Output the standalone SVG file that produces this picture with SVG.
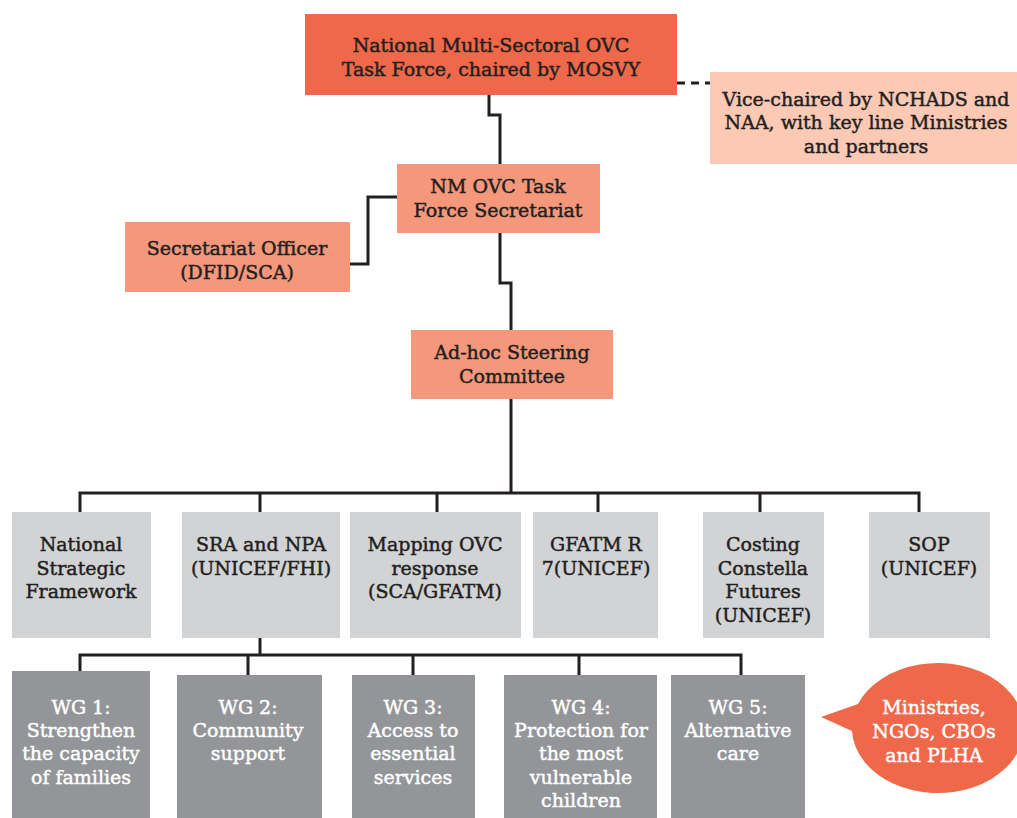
<svg xmlns="http://www.w3.org/2000/svg" width="1017" height="818" viewBox="0 0 1017 818">
<style>
text{font-family:"DejaVu Serif","Liberation Serif",serif;font-size:19px;text-anchor:middle;fill:#231F20;stroke:#231F20;stroke-width:0.45}
text.w{fill:#FFFFFF;stroke:#FFFFFF}
.dark{fill:#EF6849}
.mid{fill:#F5977A}
.light{fill:#FCC9B4}
.g1{fill:#D1D3D4}
.g2{fill:#939598}
.ln{fill:none;stroke:#231F20;stroke-width:3}
.dash{fill:none;stroke:#231F20;stroke-width:3;stroke-dasharray:8 6}
</style>
<rect width="1017" height="818" fill="#FFFFFF"/>
<g id="connectors">
<path class="ln" d="M489,95 V115 H500 V164"/>
<path class="dash" d="M677,83 H710"/>
<path class="ln" d="M350,264 H368 V197 H397"/>
<path class="ln" d="M500,233 V283 H511 V330"/>
<path class="ln" d="M511,399 V493"/>
<path class="ln" d="M80,512 V493 H919 V512"/>
<path class="ln" d="M260,493 V512 M437,493 V512 M598,493 V512 M760,493 V512"/>
<path class="ln" d="M260,638 V655"/>
<path class="ln" d="M80,671 V655 H741 V675"/>
<path class="ln" d="M248,655 V675 M413,655 V675 M579,655 V675"/>
</g>
<g id="n-taskforce">
<rect class="dark" x="305" y="14" width="372" height="81"/>
<text x="491" y="52">National Multi-Sectoral OVC</text>
<text x="491" y="76">Task Force, chaired by MOSVY</text>
</g>
<g id="n-vice">
<rect class="light" x="710" y="72" width="310" height="92"/>
<text x="866" y="106">Vice-chaired by NCHADS and</text>
<text x="866" y="129">NAA, with key line Ministries</text>
<text x="866" y="153">and partners</text>
</g>
<g id="n-secretariat">
<rect class="mid" x="397" y="164" width="203" height="69"/>
<text x="498" y="193">NM OVC Task</text>
<text x="498" y="217">Force Secretariat</text>
</g>
<g id="n-officer">
<rect class="mid" x="125" y="222" width="225" height="70"/>
<text x="237" y="255">Secretariat Officer</text>
<text x="237" y="279">(DFID/SCA)</text>
</g>
<g id="n-steering">
<rect class="mid" x="411" y="330" width="202" height="69"/>
<text x="512" y="359">Ad-hoc Steering</text>
<text x="512" y="383">Committee</text>
</g>
<g id="n-nsf">
<rect class="g1" x="12" y="512" width="139" height="126"/>
<text x="81" y="551">National</text>
<text x="81" y="575">Strategic</text>
<text x="81" y="598">Framework</text>
</g>
<g id="n-sra">
<rect class="g1" x="182" y="512" width="158" height="126"/>
<text x="261" y="551">SRA and NPA</text>
<text x="261" y="575">(UNICEF/FHI)</text>
</g>
<g id="n-mapping">
<rect class="g1" x="350" y="512" width="171" height="126"/>
<text x="435" y="551">Mapping OVC</text>
<text x="435" y="575">response</text>
<text x="435" y="598">(SCA/GFATM)</text>
</g>
<g id="n-gfatm">
<rect class="g1" x="533" y="512" width="125" height="126"/>
<text x="596" y="551">GFATM R</text>
<text x="596" y="575">7(UNICEF)</text>
</g>
<g id="n-costing">
<rect class="g1" x="703" y="512" width="121" height="126"/>
<text x="763" y="551">Costing</text>
<text x="763" y="575">Constella</text>
<text x="763" y="598">Futures</text>
<text x="763" y="622">(UNICEF)</text>
</g>
<g id="n-sop">
<rect class="g1" x="869" y="512" width="121" height="126"/>
<text x="929" y="551">SOP</text>
<text x="929" y="575">(UNICEF)</text>
</g>
<g id="n-wg1">
<rect class="g2" x="12" y="671" width="138" height="147"/>
<text class="w" x="81" y="714">WG 1:</text>
<text class="w" x="81" y="737">Strengthen</text>
<text class="w" x="81" y="760">the capacity</text>
<text class="w" x="81" y="784">of families</text>
</g>
<g id="n-wg2">
<rect class="g2" x="177" y="675" width="145" height="143"/>
<text class="w" x="248" y="714">WG 2:</text>
<text class="w" x="248" y="737">Community</text>
<text class="w" x="248" y="760">support</text>
</g>
<g id="n-wg3">
<rect class="g2" x="352" y="675" width="123" height="143"/>
<text class="w" x="413" y="714">WG 3:</text>
<text class="w" x="413" y="737">Access to</text>
<text class="w" x="413" y="760">essential</text>
<text class="w" x="413" y="784">services</text>
</g>
<g id="n-wg4">
<rect class="g2" x="504" y="675" width="153" height="143"/>
<text class="w" x="581" y="714">WG 4:</text>
<text class="w" x="581" y="737">Protection for</text>
<text class="w" x="581" y="760">the most</text>
<text class="w" x="581" y="784">vulnerable</text>
<text class="w" x="581" y="807">children</text>
</g>
<g id="n-wg5">
<rect class="g2" x="671" y="675" width="134" height="143"/>
<text class="w" x="738" y="714">WG 5:</text>
<text class="w" x="738" y="737">Alternative</text>
<text class="w" x="738" y="760">care</text>
</g>
<g id="n-bubble">
<path class="dark" d="M821,717 L858,704 A86,65 0 1 1 852,731 Z"/>
<text class="w" x="934" y="714">Ministries,</text>
<text class="w" x="934" y="738">NGOs, CBOs</text>
<text class="w" x="934" y="762">and PLHA</text>
</g>
</svg>
